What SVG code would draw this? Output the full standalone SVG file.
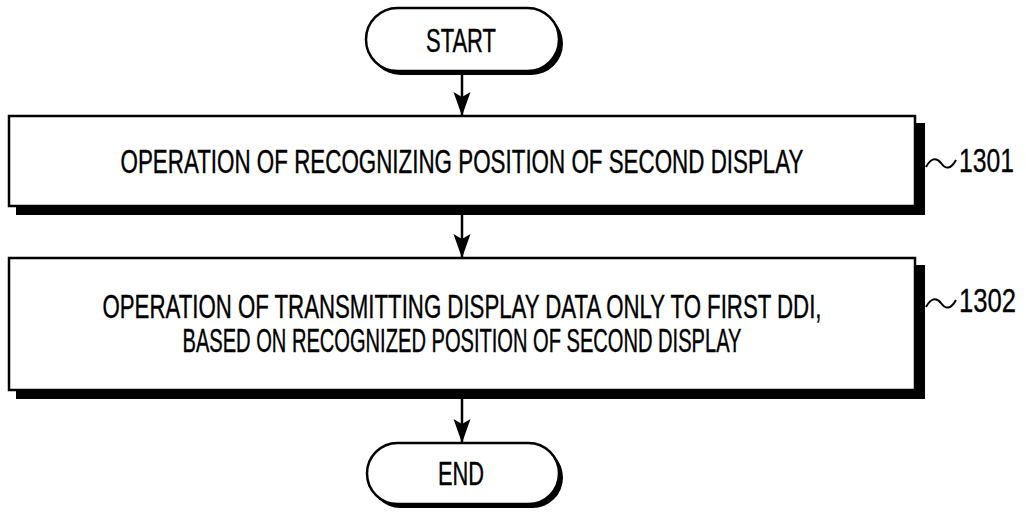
<svg xmlns="http://www.w3.org/2000/svg" width="1026" height="512" viewBox="0 0 1026 512">
<style>
.box{fill:#fff;stroke:#000;stroke-width:2.5}
.shadow{fill:#000}
.t{font-family:"Liberation Sans Narrow","Liberation Sans",Arial,sans-serif;font-size:33px;fill:#000;stroke:#000;stroke-width:0.4;text-anchor:middle}
.lbl{font-family:"Liberation Sans Narrow","Liberation Sans",Arial,sans-serif;font-size:33px;fill:#000;stroke:#000;stroke-width:0.3}
.conn{stroke:#000;stroke-width:2.5;fill:none}
.tilde{stroke:#000;stroke-width:2;fill:none}
</style>
<defs>
<marker id="ah" markerUnits="userSpaceOnUse" markerWidth="26" markerHeight="20" viewBox="-25 -10 26 20" refX="0" refY="0" orient="auto" overflow="visible">
<path d="M1,0 L-23,-8.5 L-18,0 L-23,8.5 Z" fill="#000"/>
</marker>
</defs>
<rect width="1026" height="512" fill="#fff"/>
<g id="connectors">
<line class="conn" x1="462" y1="74" x2="462" y2="115" marker-end="url(#ah)"/>
<line class="conn" x1="462" y1="215" x2="462" y2="257" marker-end="url(#ah)"/>
<line class="conn" x1="462" y1="399" x2="462" y2="442" marker-end="url(#ah)"/>
</g>
<g id="start">
<rect class="shadow" x="369" y="12" width="194" height="63" rx="31.5"/>
<rect class="box" x="366" y="8" width="193" height="63" rx="31.5"/>
<text class="t" x="461" y="52" textLength="70" lengthAdjust="spacingAndGlyphs" font-size="35">START</text>
</g>
<g id="n1301">
<rect class="shadow" x="16" y="123" width="909" height="92"/>
<rect class="box" x="9" y="116" width="906" height="90"/>
<text class="t" x="462" y="173" textLength="683" lengthAdjust="spacingAndGlyphs">OPERATION OF RECOGNIZING POSITION OF SECOND DISPLAY</text>
<path class="tilde" d="M926,167 C931,158 936,157 941,163 C946,170 951,169 956,160"/>
<text class="lbl" x="959" y="172" textLength="55" lengthAdjust="spacingAndGlyphs">1301</text>
</g>
<g id="n1302">
<rect class="shadow" x="16" y="265" width="909" height="134"/>
<rect class="box" x="9" y="258" width="906" height="132"/>
<text class="t" x="462" y="318" textLength="719" lengthAdjust="spacingAndGlyphs">OPERATION OF TRANSMITTING DISPLAY DATA ONLY TO FIRST DDI,</text>
<text class="t" x="462" y="352" textLength="559" lengthAdjust="spacingAndGlyphs">BASED ON RECOGNIZED POSITION OF SECOND DISPLAY</text>
<path class="tilde" d="M926,307 C931,298 936,297 941,303 C946,310 951,309 956,300"/>
<text class="lbl" x="959" y="312" textLength="57" lengthAdjust="spacingAndGlyphs">1302</text>
</g>
<g id="end">
<rect class="shadow" x="370" y="447" width="193" height="61" rx="30.5"/>
<rect class="box" x="367" y="443" width="192" height="61" rx="30.5"/>
<text class="t" x="461" y="485" textLength="46" lengthAdjust="spacingAndGlyphs" font-size="33">END</text>
</g>
</svg>
